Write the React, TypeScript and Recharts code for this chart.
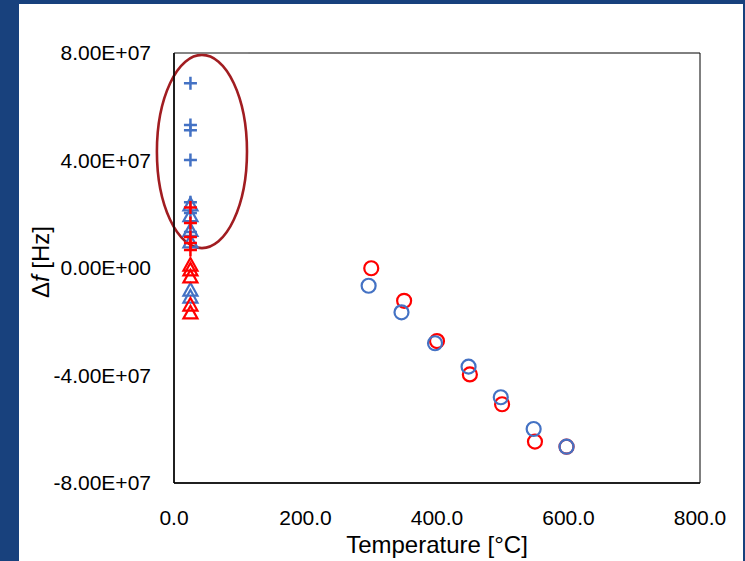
import React from 'react';
import {
  ScatterChart,
  Scatter,
  XAxis,
  YAxis,
  ReferenceArea,
  ReferenceLine,
} from 'recharts';

// room-temperature measurements (°C) and their Δf values (Hz)
const roomTemp = 25;
const bluePlusDf = [6.87e7, 5.32e7, 5.13e7, 4.02e7, 2.45e7, 2.05e7, 1.34e7];
const blueTriangleDf = [2.35e7, 1.95e7, 1.4e7, 0.97e7, -0.82e7, -1.08e7];
const redPlusDf = [2.25e7, 1.67e7, 1.15e7, 0.93e7, 0.67e7];
const redTriangleDf = [0.11e7, -0.07e7, -0.33e7, -1.38e7, -1.67e7];

// heated measurements
const blueCircleTemp = [296, 346, 397, 448, 497, 547, 597];
const blueCircleDf = [-0.66e7, -1.65e7, -2.8e7, -3.67e7, -4.81e7, -5.99e7, -6.65e7];
const redCircleTemp = [300, 350, 400, 450, 499, 549, 597];
const redCircleDf = [-0.01e7, -1.22e7, -2.72e7, -3.96e7, -5.07e7, -6.46e7, -6.65e7];

const xTicks = [0, 200, 400, 600, 800];
const yTicks = [-8e7, -4e7, 0, 4e7, 8e7];

// highlighted group (ellipse bounds in data units)
const ellipseX = [-26, 111];
const ellipseY = [0.74e7, 7.93e7];

const BLUE = '#4472C4';
const RED = '#FF0000';
const FONT = '"Liberation Sans", Arial, sans-serif';

const atRoom = (vals: number[]) => vals.map((y) => ({ x: roomTemp, y }));
const pairs = (xs: number[], ys: number[]) => xs.map((x, i) => ({ x, y: ys[i] }));

const sci = (v: number) => {
  const [m, e] = v.toExponential(2).split('e');
  const n = Number(e);
  return `${m}E${n < 0 ? '-' : '+'}${String(Math.abs(n)).padStart(2, '0')}`;
};

const plus = (color: string) => (p: any) => (
  <path
    d={`M${p.cx - 6.5},${p.cy}h13M${p.cx},${p.cy - 6.5}v13`}
    stroke={color}
    strokeWidth={2.5}
    fill="none"
  />
);

const triangle = (color: string) => (p: any) => (
  <polygon
    points={`${p.cx},${p.cy - 7} ${p.cx + 7},${p.cy + 5.5} ${p.cx - 7},${p.cy + 5.5}`}
    stroke={color}
    strokeWidth={2.2}
    fill="none"
  />
);

const circle = (color: string) => (p: any) => (
  <circle cx={p.cx} cy={p.cy} r={7} stroke={color} strokeWidth={2.2} fill="none" />
);

const ellipse = (p: any) => (
  <ellipse
    cx={p.x + p.width / 2}
    cy={p.y + p.height / 2}
    rx={Math.abs(p.width) / 2}
    ry={Math.abs(p.height) / 2}
    fill="none"
    stroke="#A11D21"
    strokeWidth={2.6}
  />
);

const YTitle = (props: any) => {
  const vb = props.viewBox;
  const cx = 40;
  const cy = vb.y + vb.height / 2 - 6;
  return (
    <text
      transform={`translate(${cx},${cy}) rotate(-90)`}
      textAnchor="middle"
      dominantBaseline="central"
      fontSize={24}
      fontFamily={FONT}
      fill="#000"
    >
      Δ<tspan fontStyle="italic">f</tspan> [Hz]
    </text>
  );
};

export default function App() {
  return (
    <div
      style={{
        position: 'absolute',
        left: 0,
        top: 0,
        width: 745,
        height: 561,
        background: '#18417D',
        overflow: 'hidden',
      }}
    >
      <div
        style={{
          position: 'absolute',
          left: 19,
          top: 4,
          width: 724,
          height: 557,
          background: '#fff',
        }}
      />
      <div style={{ position: 'absolute', left: 0, top: 0 }}>
        <ScatterChart
          width={745}
          height={561}
          margin={{ top: 53, right: 45, bottom: 0, left: 0 }}
          style={{ fontFamily: FONT }}
        >
          <XAxis
            type="number"
            dataKey="x"
            domain={[0, 800]}
            ticks={xTicks}
            tickFormatter={(v: number) => v.toFixed(1)}
            height={78}
            tickLine={false}
            tickSize={0}
            tickMargin={27}
            axisLine={{ stroke: '#000', strokeWidth: 1.5 }}
            tick={{ fill: '#000', fontSize: 21, fontFamily: FONT }}
            allowDataOverflow
            label={{
              value: 'Temperature [°C]',
              position: 'insideBottom',
              offset: 8,
              fill: '#000',
              fontSize: 24,
              fontFamily: FONT,
            }}
          />
          <YAxis
            type="number"
            dataKey="y"
            domain={[-8e7, 8e7]}
            ticks={yTicks}
            tickFormatter={sci}
            width={174}
            tickLine={false}
            tickSize={0}
            tickMargin={23}
            axisLine={{ stroke: '#000', strokeWidth: 1.5 }}
            tick={{ fill: '#000', fontSize: 21, fontFamily: FONT }}
            allowDataOverflow
            label={{ content: YTitle }}
          />
          <ReferenceArea
            x1={0}
            x2={800}
            y1={-8e7}
            y2={8e7}
            fill="none"
            stroke="#000"
            strokeWidth={1}
            ifOverflow="visible"
          />
          <ReferenceLine
            segment={[
              { x: 0, y: 8e7 },
              { x: 113, y: 8e7 },
            ]}
            stroke="#8C8C8C"
            strokeWidth={1.2}
            ifOverflow="visible"
          />
          <Scatter data={atRoom(bluePlusDf)} shape={plus(BLUE)} isAnimationActive={false} />
          <Scatter data={atRoom(blueTriangleDf)} shape={triangle(BLUE)} isAnimationActive={false} />
          <Scatter data={atRoom(redPlusDf)} shape={plus(RED)} isAnimationActive={false} />
          <Scatter data={atRoom(redTriangleDf)} shape={triangle(RED)} isAnimationActive={false} />
          <Scatter data={pairs(redCircleTemp, redCircleDf)} shape={circle(RED)} isAnimationActive={false} />
          <Scatter data={pairs(blueCircleTemp, blueCircleDf)} shape={circle(BLUE)} isAnimationActive={false} />
          <ReferenceArea
            x1={ellipseX[0]}
            x2={ellipseX[1]}
            y1={ellipseY[0]}
            y2={ellipseY[1]}
            shape={ellipse}
            ifOverflow="visible"
          />
        </ScatterChart>
      </div>
    </div>
  );
}
